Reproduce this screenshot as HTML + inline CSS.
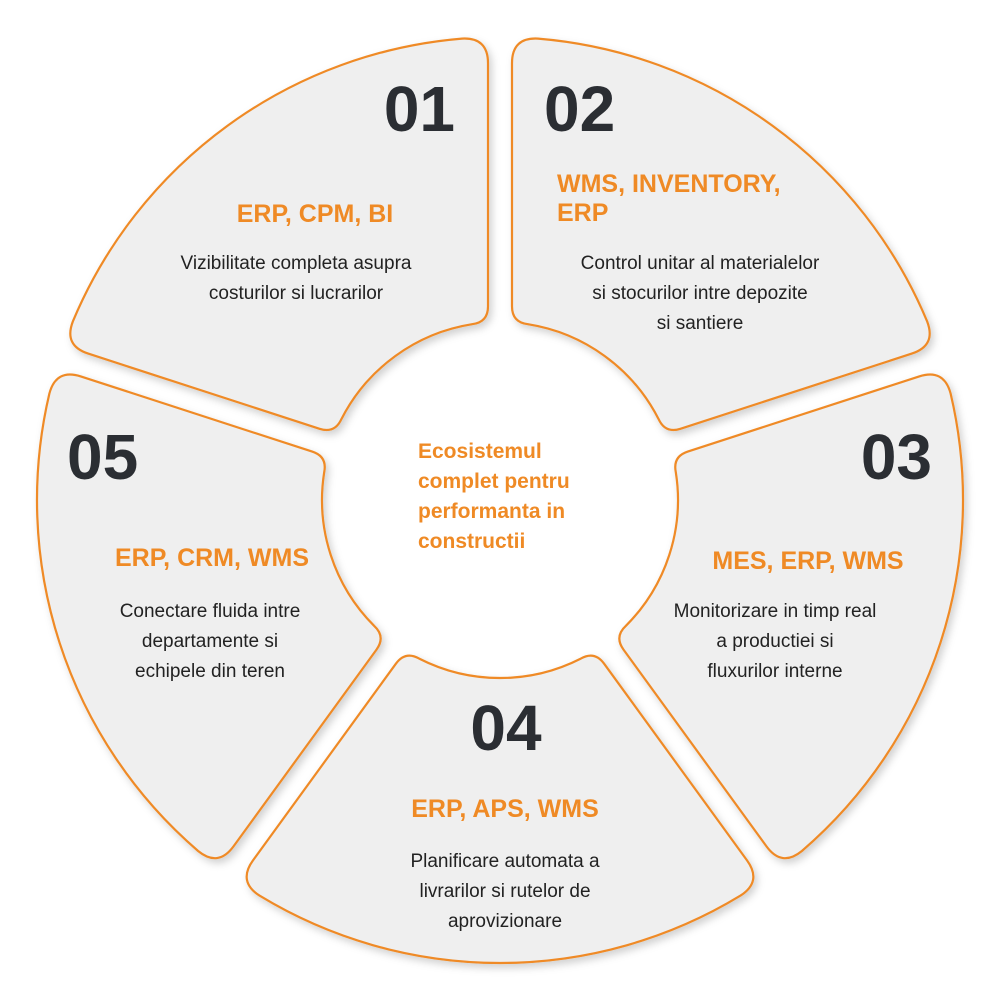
<!DOCTYPE html>
<html><head><meta charset="utf-8"><style>
html,body{margin:0;padding:0;background:#fff;}
svg{display:block}
.num{font-family:"Liberation Sans",sans-serif;font-weight:bold;font-size:64px;fill:#2b2e33}
.lab{font-family:"Liberation Sans",sans-serif;font-weight:bold;font-size:25px;fill:#ef8a25}
.d{font-family:"Liberation Sans",sans-serif;font-size:19px;fill:#222}
.c{font-family:"Liberation Sans",sans-serif;font-weight:bold;font-size:21px;fill:#ef8a25}
</style></head><body>
<svg id="s" width="1000" height="997" viewBox="0 0 1000 997">
<defs><filter id="sh" x="-20%" y="-20%" width="140%" height="140%"><feDropShadow dx="3" dy="4" stdDeviation="4" flood-color="#000" flood-opacity="0.18"/></filter></defs>
<g id="segs" filter="url(#sh)"></g>
<text class="num" x="455" y="131" text-anchor="end">01</text>
<text class="lab" x="315" y="222" text-anchor="middle">ERP, CPM, BI</text>
<text class="d" x="296" y="269" text-anchor="middle">Vizibilitate completa asupra</text>
<text class="d" x="296" y="299" text-anchor="middle">costurilor si lucrarilor</text>
<text class="num" x="544" y="131">02</text>
<text class="lab" x="557" y="192">WMS, INVENTORY,</text>
<text class="lab" x="557" y="221">ERP</text>
<text class="d" x="700" y="269" text-anchor="middle">Control unitar al materialelor</text>
<text class="d" x="700" y="299" text-anchor="middle">si stocurilor intre depozite</text>
<text class="d" x="700" y="329" text-anchor="middle">si santiere</text>
<text class="num" x="932" y="479" text-anchor="end">03</text>
<text class="lab" x="808" y="569" text-anchor="middle">MES, ERP, WMS</text>
<text class="d" x="775" y="617" text-anchor="middle">Monitorizare in timp real</text>
<text class="d" x="775" y="647" text-anchor="middle">a productiei si</text>
<text class="d" x="775" y="677" text-anchor="middle">fluxurilor interne</text>
<text class="num" x="506" y="750" text-anchor="middle">04</text>
<text class="lab" x="505" y="817" text-anchor="middle">ERP, APS, WMS</text>
<text class="d" x="505" y="867" text-anchor="middle">Planificare automata a</text>
<text class="d" x="505" y="897" text-anchor="middle">livrarilor si rutelor de</text>
<text class="d" x="505" y="927" text-anchor="middle">aprovizionare</text>
<text class="num" x="67" y="479">05</text>
<text class="lab" x="212" y="566" text-anchor="middle">ERP, CRM, WMS</text>
<text class="d" x="210" y="617" text-anchor="middle">Conectare fluida intre</text>
<text class="d" x="210" y="647" text-anchor="middle">departamente si</text>
<text class="d" x="210" y="677" text-anchor="middle">echipele din teren</text>
<text class="c" x="418" y="458">Ecosistemul</text>
<text class="c" x="418" y="488">complet pentru</text>
<text class="c" x="418" y="518">performanta in</text>
<text class="c" x="418" y="548">constructii</text>
</svg>
<script>
(function(){
var cx=500,cy=500,R=463,ri=178,g=12,ro=26,rin=16;
function P(r,a){a=a*Math.PI/180;return [cx+r*Math.sin(a),cy-r*Math.cos(a)];}
function f(p){return p[0].toFixed(1)+","+p[1].toFixed(1);}
var deg=180/Math.PI,out="";
[36,108,180,252,324].forEach(function(c){
 var a=c-36,b=c+36;
 var ao=Math.asin(g/R)*deg, ai=Math.asin(g/ri)*deg;
 var A=P(R,a+ao),B=P(R,b-ao),C=P(ri,b-ai),D=P(ri,a+ai);
 var dro=ro/R*deg, dri=rin/ri*deg;
 function towards(p,q,d){var dx=q[0]-p[0],dy=q[1]-p[1],l=Math.hypot(dx,dy);return [p[0]+dx/l*d,p[1]+dy/l*d];}
 var A1=towards(A,D,ro),A2=P(R,a+ao+dro),B1=P(R,b-ao-dro),B2=towards(B,C,ro),
     C1=towards(C,B,rin),C2=P(ri,b-ai-dri),D1=P(ri,a+ai+dri),D2=towards(D,A,rin);
 var d="M"+f(A1)+" Q"+f(A)+" "+f(A2)+" A"+R+","+R+" 0 0 1 "+f(B1)+" Q"+f(B)+" "+f(B2)+
  " L"+f(C1)+" Q"+f(C)+" "+f(C2)+" A"+ri+","+ri+" 0 0 0 "+f(D1)+" Q"+f(D)+" "+f(D2)+" Z";
 out+='<path d="'+d+'" fill="#efefef" stroke="#ef8a25" stroke-width="2.2"/>';
});
document.getElementById("segs").innerHTML=out;
})();
</script>
</body></html>
